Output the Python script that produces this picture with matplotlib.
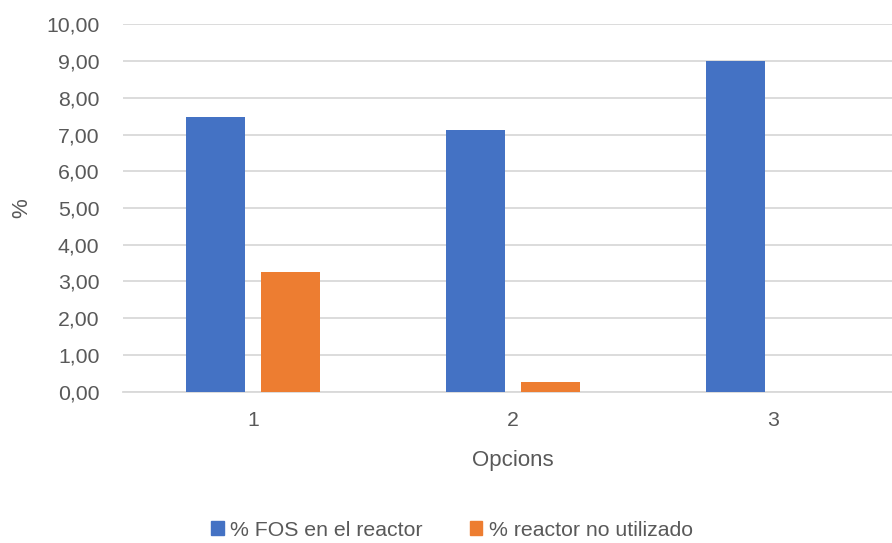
import matplotlib
matplotlib.use("Agg")
import matplotlib.pyplot as plt
from matplotlib.patches import Patch
import numpy as np

categories = ["1", "2", "3"]
fos_reactor = [7.47, 7.11, 9.01]
reactor_no_utilizado = [3.26, 0.26, 0.0]
series_names = ["% FOS en el reactor", "% reactor no utilizado"]
yticks = [0, 1, 2, 3, 4, 5, 6, 7, 8, 9, 10]

BLUE = "#4472C4"
ORANGE = "#ED7D31"
GRID = "#D9D9D9"
TEXT = "#595959"

plt.rcParams["font.family"] = ["Liberation Sans", "DejaVu Sans"]

W, H = 892, 543
fig = plt.figure(figsize=(W / 100, H / 100), dpi=100)
left, right, bottom, top = 123, 903, 391.7, 24.3
ax = fig.add_axes([left / W, (H - bottom) / H, (right - left) / W, (bottom - top) / H])

x = np.arange(1, len(categories) + 1)
bw = 0.227
off = 0.143
ax.bar(x - off, fos_reactor, width=bw, color=BLUE, zorder=3)
ax.bar(x + off, reactor_no_utilizado, width=bw, color=ORANGE, zorder=3)

ax.set_xlim(0.5, 3.5)
ax.set_ylim(0, 10)
ax.set_yticks(yticks)
ax.set_yticklabels([f"{v:.2f}".replace(".", ",") for v in yticks])
ax.set_xticks(x)
ax.set_xticklabels(categories)
ax.yaxis.grid(True, color=GRID, linewidth=1.3, zorder=0)
for s in ["left", "right", "top"]:
    ax.spines[s].set_visible(False)
ax.spines["bottom"].set_color(GRID)
ax.spines["bottom"].set_linewidth(1.3)
ax.tick_params(axis="both", length=0, labelsize=15.3, colors=TEXT)
ax.tick_params(axis="y", pad=17)
ax.tick_params(axis="x", pad=14)

ax.set_xlabel("Opcions", fontsize=16, color=TEXT, labelpad=14)
fig.text(22 / W, 1 - 208 / H, "%", rotation=90, fontsize=16, color=TEXT,
         ha="center", va="center")

handles = [Patch(color=BLUE), Patch(color=ORANGE)]
fig.legend(handles, series_names, loc="center", bbox_to_anchor=(452 / W, 1 - 530 / H),
           ncol=2, frameon=False, fontsize=15.3, labelcolor=TEXT,
           handlelength=0.6, handleheight=0.6, handletextpad=0.3, columnspacing=2.2)

fig.savefig("out.png", dpi=100)
